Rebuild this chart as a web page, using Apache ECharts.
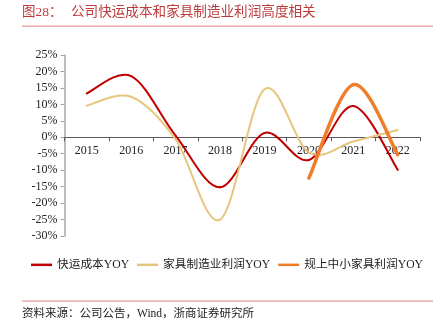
<!DOCTYPE html>
<html><head><meta charset="utf-8">
<script src="https://cdn.jsdelivr.net/npm/echarts@6/dist/echarts.min.js"></script>
<style>html,body{margin:0;padding:0;background:#fff}#c{width:447px;height:326px}</style>
</head><body><div id="c"></div>
<script>
const categories = ['2015','2016','2017','2018','2019','2020','2021','2022'];
const expressCost = [13.3, 18.6, 0.5, -15.2, 1.3, -6.9, 9.5, -9.9];
const furnitureProfit = [9.6, 12.3, -0.6, -25.0, 14.6, -4.6, -1.3, 2.2];
const smallFurnitureProfit = [null, null, null, null, null, -12.4, 16.0, -5.3];
const yTicks = {min: -30, max: 25, interval: 5};

const serif = '"Liberation Serif", "Times New Roman", "Noto Sans CJK SC", serif';
const gridTop = 55, gridBottom = 90, plotH = 326 - gridTop - gridBottom;
const zeroOffset = plotH * (0 - yTicks.min) / (yTicks.max - yTicks.min);

// Catmull-Rom style smooth line drawn through the chart's own coordinate system
function smoothSeries(name, values, color, width) {
  return {
    name: name, type: 'custom', coordinateSystem: 'cartesian2d',
    itemStyle: {color: color},
    encode: {x: 0, y: 1},
    data: values.map((v, i) => [i, v == null ? 0 : v]),
    renderItem: function (params, api) {
      const i = params.dataIndex;
      if (values[i] == null || i + 1 >= values.length || values[i + 1] == null) return null;
      const P = k => api.coord([k, values[k]]);
      const p1 = P(i), p2 = P(i + 1);
      const p0 = (i - 1 >= 0 && values[i - 1] != null) ? P(i - 1) : p1;
      const p3 = (i + 2 < values.length && values[i + 2] != null) ? P(i + 2) : p2;
      const t = 1 / 6;
      return {
        type: 'bezierCurve',
        shape: {
          x1: p1[0], y1: p1[1], x2: p2[0], y2: p2[1],
          cpx1: p1[0] + (p2[0] - p0[0]) * t, cpy1: p1[1] + (p2[1] - p0[1]) * t,
          cpx2: p2[0] - (p3[0] - p1[0]) * t, cpy2: p2[1] - (p3[1] - p1[1]) * t
        },
        style: {stroke: color, lineWidth: width, fill: null, lineCap: 'round'}
      };
    }
  };
}

const chart = echarts.init(document.getElementById('c'));
chart.setOption({
  animation: false,
  backgroundColor: '#fff',
  grid: {left: 64.5, right: 27, top: gridTop, bottom: gridBottom},
  legend: {
    left: 31, top: 259, width: 416, padding: 0, itemWidth: 21, itemHeight: 2.5, itemGap: 8,
    icon: 'rect',
    textStyle: {fontSize: 11.7, fontFamily: serif, color: '#222'},
    data: ['快运成本YOY','家具制造业利润YOY','规上中小家具利润YOY']
  },
  xAxis: {
    type: 'category', data: categories, boundaryGap: true, offset: -zeroOffset,
    axisLine: {onZero: false, lineStyle: {color: '#5a5a5a', width: 1}},
    axisTick: {show: true, length: 4, lineStyle: {color: '#5a5a5a'}},
    axisLabel: {fontSize: 12, fontFamily: serif, color: '#222', margin: 8, interval: 0}
  },
  yAxis: {
    type: 'value', min: yTicks.min, max: yTicks.max, interval: yTicks.interval,
    splitLine: {show: false},
    axisLine: {show: true, lineStyle: {color: '#a6a6a6', width: 1.5}},
    axisTick: {show: true, length: 4, lineStyle: {color: '#a6a6a6'}},
    axisLabel: {fontSize: 12, fontFamily: serif, color: '#222', margin: 7, formatter: v => v + '%'}
  },
  series: [
    smoothSeries('快运成本YOY', expressCost, '#C00000', 2),
    smoothSeries('家具制造业利润YOY', furnitureProfit, '#E6C67E', 2),
    smoothSeries('规上中小家具利润YOY', smallFurnitureProfit, '#F07D2A', 3.5)
  ],
  graphic: [
    {type: 'text', left: 22, top: 6, style: {text: '图28：', fontSize: 13.5, fontFamily: serif, fill: '#BE3B3B'}},
    {type: 'text', left: 71, top: 6, style: {text: '公司快运成本和家具制造业利润高度相关', fontSize: 13.6, fontFamily: serif, fill: '#BE3B3B'}},
    {type: 'rect', shape: {x: 22, y: 25.5, width: 411, height: 1.2}, style: {fill: '#E39A9A'}},
    {type: 'rect', shape: {x: 22, y: 300.5, width: 411, height: 1.2}, style: {fill: '#E39A9A'}},
    {type: 'text', left: 22, top: 308, style: {text: '资料来源：公司公告，Wind，浙商证券研究所', fontSize: 11.5, fontFamily: serif, fill: '#222'}}
  ]
});
</script></body></html>
